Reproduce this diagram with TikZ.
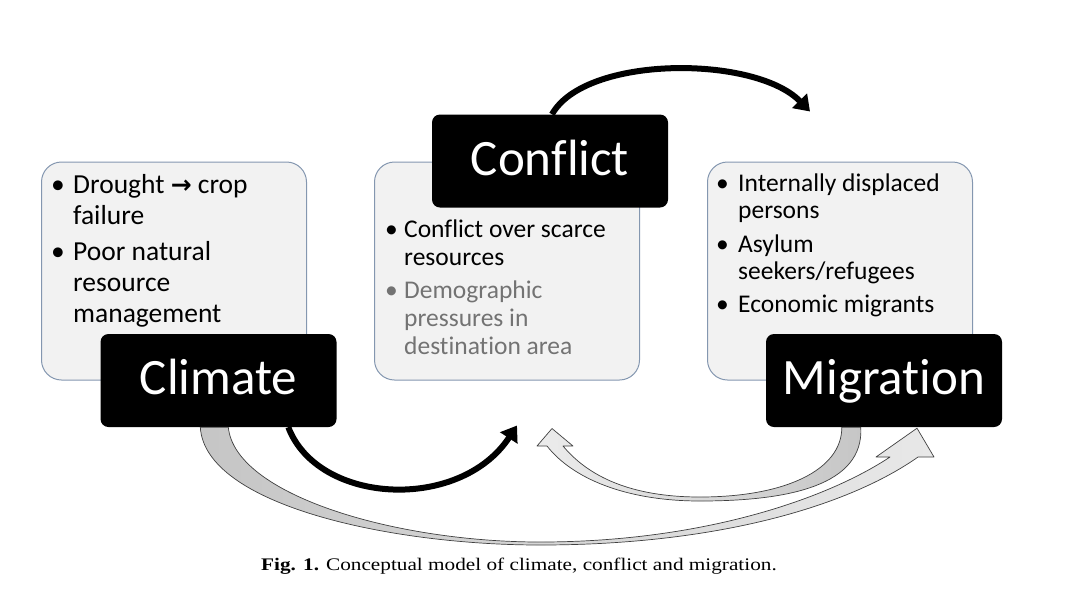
\documentclass[tikz,border=0pt]{standalone}
\usepackage{fontspec}
\newfontfamily\calib[Ligatures={NoCommon}]{Carlito}
\newfontfamily\symf{DejaVu Sans}
\newfontfamily\capf[FakeStretch=1.2]{Liberation Serif}
\usetikzlibrary{arrows.meta,calc}
\definecolor{boxfill}{HTML}{F2F2F2}
\definecolor{boxline}{HTML}{8497B0}
\definecolor{demo}{HTML}{737373}
\newcommand{\bl}[1]{\makebox[#1][l]{•}}
\tikzset{
  txtbox/.style={fill=boxfill, draw=boxline, line width=1pt, rounded corners=20pt,
    minimum width=265pt, minimum height=218pt, inner sep=0pt},
  blackbox/.style={fill=black, rounded corners=8pt, minimum width=236pt, minimum height=93pt,
    text=white, font=\calib\fontsize{51}{51}\selectfont, text height=28pt, text depth=0pt, inner sep=0pt},
  bultext/.style={anchor=base west, inner sep=0pt, align=left},
  blackarrow/.style={line width=6pt, -{Triangle[length=15pt,width=20pt]}},
  blockarrow/.style={draw=black!75, line width=0.7pt, line join=round},
}
\begin{document}
\begin{tikzpicture}[x=1pt,y=-1pt]
\useasboundingbox (0,0) rectangle (1091,598);

% text boxes
\node[txtbox] (climB) at (174,271) {};
\node[txtbox] (confB) at (507,271) {};
\node[txtbox] (migB) at (840,271) {};

% bullet texts
\node[bultext] (climT) at (51,193) {\parbox[t]{250pt}{\calib\fontsize{27.5}{31.2}\selectfont\raggedright
\bl{22pt}Drought {\symf\bfseries\fontsize{25}{25}\selectfont→} crop\\
\hspace*{22pt}failure\\[5pt]
\bl{22pt}Poor natural\\
\hspace*{22pt}resource\\
\hspace*{22pt}management}};
\node[bultext] (confT) at (385,237.5) {\parbox[t]{250pt}{\calib\fontsize{25.5}{28}\selectfont\raggedright
\bl{19pt}Conflict over scarce\\
\hspace*{19pt}resources\\[5pt]
\color{demo}\bl{19pt}Demographic\\
\hspace*{19pt}pressures in\\
\hspace*{19pt}destination area}};
\node[bultext] (migT) at (716,191.7) {\parbox[t]{250pt}{\calib\fontsize{25.5}{27}\selectfont\raggedright
\bl{22pt}Internally displaced\\
\hspace*{22pt}persons\\[6.5pt]
\bl{22pt}Asylum\\
\hspace*{22pt}seekers/refugees\\[6.5pt]
\bl{22pt}Economic migrants}};

% black label boxes
\node[blackbox] (climK) at (218.5,380.5) {Climate};
\node[blackbox] (confK) at (550,161) {Conflict};
\node[blackbox] (migK) at (884,380.5) {Migration};

% block arrow Climate -> Migration
\coordinate (a4a) at ($(climK.south west)+(100,0)$);
\coordinate (a4b) at ($(climK.south west)+(128,0)$);
\coordinate (a4tip) at ($(migK.south)+(33,1)$);
\path[blockarrow, left color=gray!45, right color=gray!18]
  (a4a) .. controls (205,505) and (390,545) .. (540,545)
  .. controls (720,545) and (850,505) .. (918,457)
  -- (934,457) -- (a4tip) -- (876,457) -- (890,457)
  .. controls (825,500) and (700,542) .. (540,542)
  .. controls (395,542) and (235,495) .. (a4b) -- cycle;

% block arrow Migration -> Conflict
\coordinate (a3a) at ($(migK.south west)+(95,0)$);
\coordinate (a3b) at ($(migK.south west)+(76,0)$);
\coordinate (a3tip) at ($(confB.south)+(45,48)$);
\path[blockarrow, left color=gray!15, right color=gray!45]
  (a3a) .. controls (864,485) and (790,501) .. (700,501)
  .. controls (625,501) and (572,478) .. (547,446)
  -- (537,446) -- (a3tip) -- (573,446) -- (563,446)
  .. controls (588,476) and (630,497) .. (700,497)
  .. controls (785,497) and (842,470) .. (a3b) -- cycle;

% black arrows
\coordinate (a1s) at ($(confK.north)+(2,0)$);
\coordinate (a1e) at ($(migB.north)+(-30,-50)$);
\draw[blackarrow] (a1s) .. controls (585,55) and (755,55) .. (a1e);
\coordinate (a2s) at ($(climK.south west)+(188,0)$);
\coordinate (a2e) at ($(confB.south)+(10,45)$);
\draw[blackarrow] (a2s) .. controls (318,505) and (460,512) .. (a2e);

% caption
\node[anchor=base, inner sep=0pt, font=\capf\fontsize{17.7}{20}\selectfont] (cap) at (519,570.7)
  {\textbf{Fig. 1.} Conceptual model of climate, conflict and migration.};
\end{tikzpicture}
\end{document}
